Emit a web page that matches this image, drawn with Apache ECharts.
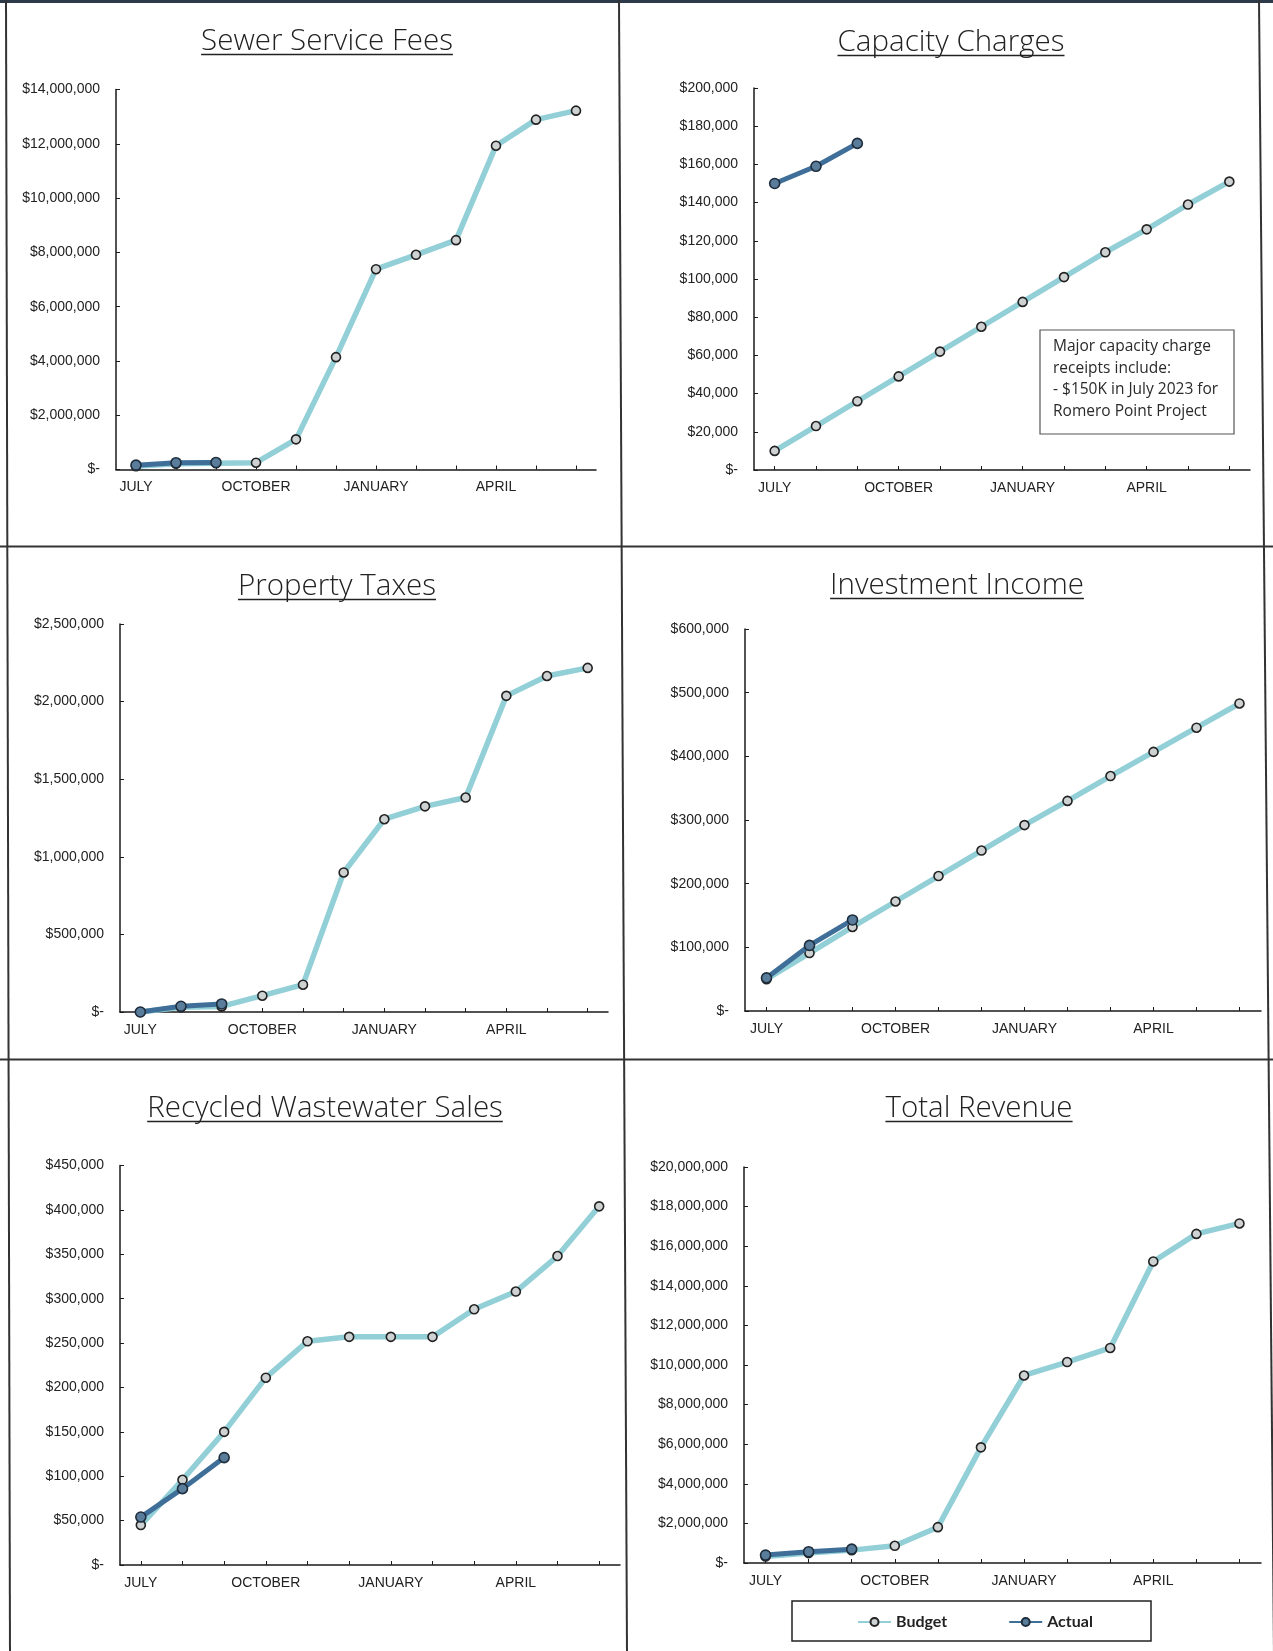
<!DOCTYPE html>
<html>
<head>
<meta charset="utf-8">
<title>Revenue Dashboard</title>
<script src="https://cdn.jsdelivr.net/npm/echarts@6/dist/echarts.min.js"></script>
<style>
  html, body { margin: 0; padding: 0; background: #ffffff; }
  #chart { width: 1273px; height: 1651px; }
</style>
</head>
<body>
<div id="chart"></div>
<script>
// Fiscal-year months (July through June)
const months = ['JULY', 'AUGUST', 'SEPTEMBER', 'OCTOBER', 'NOVEMBER', 'DECEMBER',
                'JANUARY', 'FEBRUARY', 'MARCH', 'APRIL', 'MAY', 'JUNE'];

// Cumulative budget vs. actual, by revenue source
const sewerBudget = [120000, 210000, 230000, 250000, 1110000, 4140000, 7380000, 7910000, 8450000, 11930000, 12890000, 13220000];
const sewerActual = [160000, 250000, 260000];

const capacityBudget = [10000, 23000, 36000, 49000, 62000, 75000, 88000, 101000, 114000, 126000, 139000, 151000];
const capacityActual = [150000, 159000, 171000];

const propertyBudget = [0, 30000, 36000, 105000, 176000, 899000, 1242000, 1325000, 1382000, 2037000, 2165000, 2217000];
const propertyActual = [0, 37000, 52000];

const investBudget = [50000, 91000, 132000, 172000, 212000, 252000, 292000, 330000, 369000, 407000, 445000, 483000];
const investActual = [52000, 103000, 143000];

const recycledBudget = [45000, 96000, 150000, 211000, 252000, 257000, 257000, 257000, 288000, 308000, 348000, 404000];
const recycledActual = [54000, 86000, 121000];

const totalBudget = [330000, 500000, 650000, 870000, 1810000, 5840000, 9470000, 10150000, 10860000, 15230000, 16620000, 17150000];
const totalActual = [400000, 570000, 700000];

// Panel titles and y-axis ranges
const titles = ['Sewer Service Fees', 'Capacity Charges', 'Property Taxes',
                'Investment Income', 'Recycled Wastewater Sales', 'Total Revenue'];
const yMax = [14000000, 200000, 2500000, 600000, 450000, 20000000];
const yStep = [2000000, 20000, 500000, 100000, 50000, 2000000];

const budgets = [sewerBudget, capacityBudget, propertyBudget, investBudget, recycledBudget, totalBudget];
const actuals = [sewerActual, capacityActual, propertyActual, investActual, recycledActual, totalActual];

// Plot-area boxes for the 3x2 layout
const grids = [
  { left: 116, top: 89.5, width: 480, height: 380 },
  { left: 754, top: 88,   width: 496, height: 382 },
  { left: 120, top: 624,  width: 488, height: 388 },
  { left: 745, top: 629,  width: 516, height: 382 },
  { left: 120, top: 1165.5, width: 500, height: 399.5 },
  { left: 744, top: 1167, width: 517, height: 396 }
];
const titlePos = [[327, 40], [951, 41], [337, 585], [957, 584], [325, 1107], [979, 1107]];

const AXIS_FONT = '"Liberation Sans", Arial, sans-serif';
const TITLE_FONT = '"Open Sans", sans-serif';

function money(v) {
  if (v === 0) return '$-';
  return '$' + Math.round(v).toLocaleString('en-US');
}

const measureCtx = document.createElement('canvas').getContext('2d');
function textWidth(txt, font) {
  measureCtx.font = font;
  return measureCtx.measureText(txt).width;
}

const xAxis = [], yAxis = [], series = [], graphic = [];

grids.forEach((g, i) => {
  xAxis.push({
    type: 'category', gridIndex: i, data: months, boundaryGap: true,
    axisLine: { lineStyle: { color: '#1a1a1a', width: 1.5 } },
    axisTick: { show: true, alignWithLabel: true, interval: 0, inside: true, length: 4,
                lineStyle: { color: '#1a1a1a', width: 1 } },
    axisLabel: { interval: 2, color: '#222', fontFamily: AXIS_FONT, fontSize: 14, margin: 11 },
    splitLine: { show: false }
  });
  yAxis.push({
    type: 'value', gridIndex: i, min: 0, max: yMax[i], interval: yStep[i],
    axisLine: { show: true, lineStyle: { color: '#1a1a1a', width: 1.5 } },
    axisTick: { show: true, inside: true, length: 4, lineStyle: { color: '#1a1a1a', width: 1 } },
    axisLabel: { color: '#222', fontFamily: AXIS_FONT, fontSize: 14, margin: 16, formatter: money },
    splitLine: { show: false }
  });
  series.push({
    name: 'Budget', type: 'line', xAxisIndex: i, yAxisIndex: i,
    data: budgets[i], symbol: 'circle', symbolSize: 9, showAllSymbol: true,
    lineStyle: { color: '#92cfd7', width: 5.5 },
    itemStyle: { color: '#cfd2d3', borderColor: '#222', borderWidth: 1.6 },
    z: 2
  });
  series.push({
    name: 'Actual', type: 'line', xAxisIndex: i, yAxisIndex: i,
    data: actuals[i], symbol: 'circle', symbolSize: 10, showAllSymbol: true,
    lineStyle: { color: '#3f6f98', width: 5 },
    itemStyle: { color: '#5a7d9b', borderColor: '#1e2d3c', borderWidth: 1.6 },
    z: 3
  });

  // Underlined panel title
  const font = '300 29.5px ' + TITLE_FONT;
  const w = textWidth(titles[i], font);
  const [cx, cy] = titlePos[i];
  graphic.push({
    type: 'text', left: cx - w / 2, top: cy - 13,
    style: { text: titles[i], font: font, fill: '#222' }
  });
  graphic.push({
    type: 'line', shape: { x1: cx - w / 2, y1: cy + 14.5, x2: cx + w / 2, y2: cy + 14.5 },
    style: { stroke: '#222', lineWidth: 1.5 }
  });
});

// Panel frame lines
const frame = [
  [0, 1.5, 1273, 1.5, 3, '#2c3a4a'],
  [6, 0, 10, 1651, 2, '#333'],
  [619, 0, 627, 1651, 2, '#333'],
  [1259, 0, 1274, 1651, 2, '#333'],
  [0, 546.5, 1273, 546.5, 2, '#333'],
  [0, 1059.5, 1273, 1059.5, 2, '#333']
];
frame.forEach(f => graphic.push({
  type: 'line', shape: { x1: f[0], y1: f[1], x2: f[2], y2: f[3] },
  style: { stroke: f[5], lineWidth: f[4] }, z: 10
}));

// Note box on the capacity charges panel
graphic.push({
  type: 'rect', shape: { x: 1040, y: 330, width: 194, height: 104 },
  style: { fill: '#fff', stroke: '#555', lineWidth: 1.2 }, z: 5
});
graphic.push({
  type: 'text', left: 1053, top: 336, z: 6,
  style: {
    text: 'Major capacity charge\nreceipts include:\n- $150K in July 2023 for\nRomero Point Project',
    font: '15.5px ' + TITLE_FONT, fill: '#2a2a2a', lineHeight: 21.5
  }
});

// Legend frame
graphic.push({
  type: 'rect', shape: { x: 792, y: 1601, width: 359, height: 40 },
  style: { fill: 'none', stroke: '#222', lineWidth: 1.5 }, z: 5
});

const chart = echarts.init(document.getElementById('chart'), null, { renderer: 'canvas' });
chart.setOption({
  animation: false,
  backgroundColor: '#ffffff',
  grid: grids,
  xAxis: xAxis,
  yAxis: yAxis,
  series: series,
  legend: {
    data: ['Budget', 'Actual'],
    left: 852, top: 1609,
    itemWidth: 33, itemHeight: 10, itemGap: 61,
    textStyle: { fontFamily: 'Lato, "Open Sans", sans-serif', fontWeight: 'bold', fontSize: 16, color: '#222' }
  },
  graphic: graphic
});
</script>
</body>
</html>
